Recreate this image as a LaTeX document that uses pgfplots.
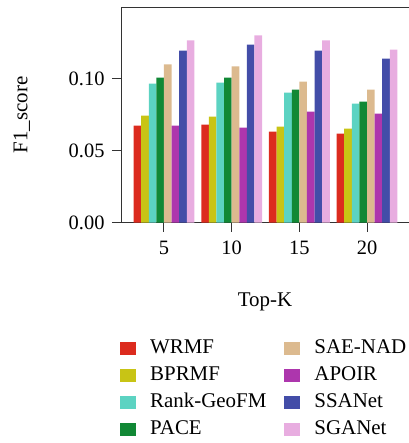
\documentclass[border=0pt]{standalone}
\usepackage{fontspec}
\setmainfont{Liberation Serif}
\usepackage{pgfplots}
\pgfplotsset{compat=1.18}
\definecolor{cWRMF}{HTML}{DC2B1E}
\definecolor{cBPRMF}{HTML}{C8C415}
\definecolor{cRank}{HTML}{5CD3C2}
\definecolor{cPACE}{HTML}{118835}
\definecolor{cSAE}{HTML}{DCBA8F}
\definecolor{cAPOIR}{HTML}{AD36AD}
\definecolor{cSSA}{HTML}{434DA8}
\definecolor{cSGA}{HTML}{E8ADE0}
\definecolor{axiscol}{HTML}{333333}
\begin{document}
\begin{tikzpicture}
\useasboundingbox (0,0) rectangle (409bp,-443bp);
\begin{axis}[
  at={(121bp,-222.5bp)}, anchor=south west,
  width=288bp, height=215.5bp, scale only axis,
  xmin=-0.635, xmax=3.62, ymin=0, ymax=0.15,
  axis x line*=bottom, axis y line*=left,
  axis line style={-, axiscol, line width=1bp},
  ybar=0pt, bar width=7.6bp,
  xtick={0,1,2,3}, xticklabels={5,10,15,20},
  ytick={0,0.05,0.10},
  yticklabel style={/pgf/number format/fixed, /pgf/number format/fixed zerofill, /pgf/number format/precision=2, xshift=-4bp},
  /pgf/number format/assume math mode=true,
  tick align=outside, major tick length=9bp,
  tick style={axiscol, line width=1bp},
  ticklabel style={font=\fontsize{20.5}{24}\selectfont},
  xticklabel style={yshift=-6bp},
  xlabel={Top-K}, ylabel={F1\_score},
  every axis x label/.style={at={(axis description cs:0.5,-0.369)}, anchor=center, font=\fontsize{21}{25}\selectfont},
  every axis y label/.style={at={(axis description cs:-0.344,0.5)}, anchor=center, rotate=90, font=\fontsize{21}{25}\selectfont},
  legend columns=4, transpose legend, legend cell align=left,
  legend image code/.code={\fill[#1,draw=none] (0bp,-6.5bp) rectangle (16bp,6.5bp);},
  legend style={at={(axis description cs:-0.0035,-0.544)}, anchor=north west, draw=none,
    font=\fontsize{21}{25}\selectfont, inner sep=0pt, row sep=9bp,
    nodes={inner sep=0pt, text height=14bp, text depth=4bp},
    /tikz/every odd column/.append style={column sep=14bp},
    /tikz/every even column/.append style={column sep=18bp}},
]
\addplot[fill=cWRMF, draw=none] coordinates {(0,0.0674) (1,0.0681) (2,0.0632) (3,0.0618)};
\addplot[fill=cBPRMF, draw=none] coordinates {(0,0.0744) (1,0.0737) (2,0.0667) (3,0.0653)};
\addplot[fill=cRank, draw=none] coordinates {(0,0.0967) (1,0.0974) (2,0.0904) (3,0.0828)};
\addplot[fill=cPACE, draw=none] coordinates {(0,0.1009) (1,0.1009) (2,0.0925) (3,0.0841)};
\addplot[fill=cSAE, draw=none] coordinates {(0,0.1100) (1,0.1086) (2,0.0981) (3,0.0925)};
\addplot[fill=cAPOIR, draw=none] coordinates {(0,0.0674) (1,0.0660) (2,0.0772) (3,0.0758)};
\addplot[fill=cSSA, draw=none] coordinates {(0,0.1197) (1,0.1239) (2,0.1197) (3,0.1141)};
\addplot[fill=cSGA, draw=none] coordinates {(0,0.1267) (1,0.1302) (2,0.1267) (3,0.1204)};
\legend{WRMF,BPRMF,Rank-GeoFM,PACE,SAE-NAD,APOIR,SSANet,SGANet}
\draw[axiscol, line width=1bp] (rel axis cs:0,1) -- (rel axis cs:1,1);
\end{axis}
\end{tikzpicture}
\end{document}
